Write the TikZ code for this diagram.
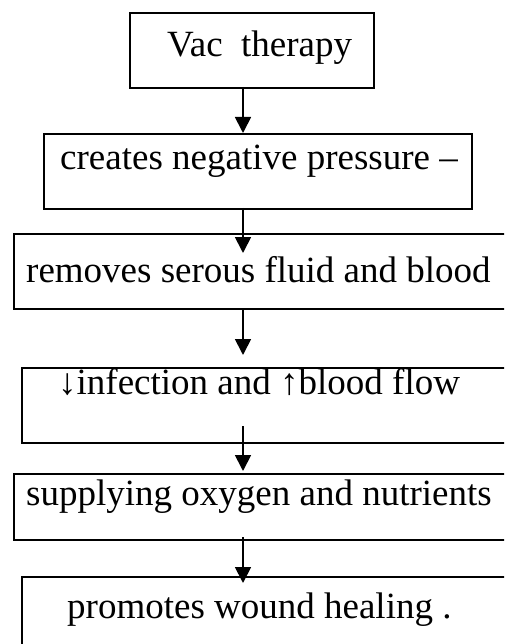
\documentclass[tikz,border=0pt]{standalone}
\usepackage{fontspec}
\setmainfont{Liberation Serif}
\usetikzlibrary{arrows.meta}
\begin{document}
\begin{tikzpicture}[x=1pt,y=-1pt,
  box/.style={draw,line width=1.8pt,inner sep=0pt,anchor=north west},
  lbl/.style={inner sep=0pt,anchor=base west,font=\fontsize{37}{40}\selectfont},
  arr/.style={line width=1.8pt,-{Triangle[length=16pt,width=16pt]}}]
\useasboundingbox (0,0) rectangle (504,644);
\clip (0,0) rectangle (504,644);
% boxes
\node[box,minimum width=244pt,minimum height=75pt] (b1) at (129,12) {};
\node[box,minimum width=428pt,minimum height=75pt] (b2) at (43,133) {};
\node[box,minimum width=520pt,minimum height=75pt] (b3) at (13,233) {};
\node[box,minimum width=520pt,minimum height=75pt] (b4) at (21,367) {};
\node[box,minimum width=520pt,minimum height=66pt] (b5) at (13,473) {};
\node[box,minimum width=520pt,minimum height=100pt] (b6) at (21,576) {};
% texts
\node[lbl] (t1) at (167,57) {Vac\ \ therapy};
\node[lbl] (t2) at (60,170) {creates negative pressure –};
\node[lbl] (t3) at (26,282) {removes serous fluid and blood};
\node[lbl] (t4) at (58,394) {↓infection and ↑blood flow};
\node[lbl] (t5) at (26,505) {supplying oxygen and nutrients};
\node[lbl] (t6) at (67,618) {promotes wound healing .};
% arrow end points
\coordinate (s1) at (243,87);  \coordinate (e1) at (243,133);
\coordinate (s2) at (243,208); \coordinate (e2) at (243,253);
\coordinate (s3) at (243,310); \coordinate (e3) at (243,355);
\coordinate (s4) at (243,426); \coordinate (e4) at (243,471);
\coordinate (s5) at (243,537); \coordinate (e5) at (243,583);
\draw[arr] (s1) -- (e1);
\draw[arr] (s2) -- (e2);
\draw[arr] (s3) -- (e3);
\draw[arr] (s4) -- (e4);
\draw[arr] (s5) -- (e5);
\end{tikzpicture}
\end{document}
